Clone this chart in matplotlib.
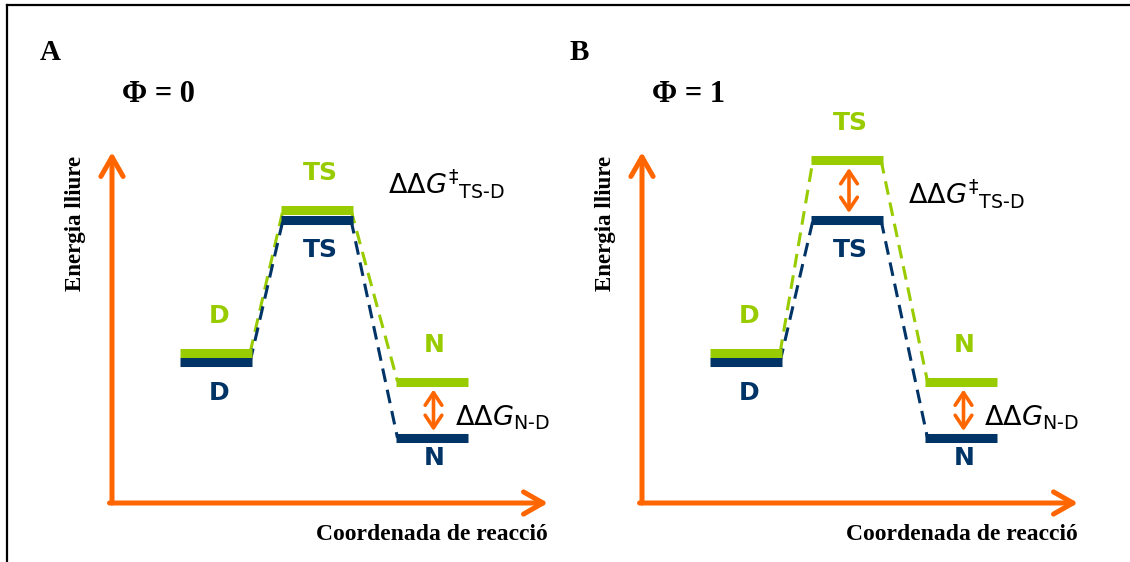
import matplotlib
matplotlib.use('Agg')
import matplotlib.pyplot as plt
from matplotlib.lines import Line2D

plt.rcParams['mathtext.fontset'] = 'dejavusans'

GREEN = '#99cc00'
BLUE = '#003366'
ORANGE = '#ff6600'
SERIF = 'Liberation Serif'

# states along the reaction coordinate
states = ['D', 'TS', 'N']
coord = [10.4, 20.5, 31.95]
half_w = 3.6

# free energy levels (arbitrary units)
energy_blue = [14.1, 28.3, 6.5]
energy_green_A = [15.0, 29.3, 12.15]
energy_green_B = [15.0, 34.3, 12.15]

panel_names = ['A', 'B']
phi_values = ['0', '1']
ddg_arrows_A = ['N']
ddg_arrows_B = ['TS', 'N']

W, H = 1130, 562
fig = plt.figure(figsize=(W / 100, H / 100), dpi=100)

# frame (top + left border)
fig.add_artist(Line2D([7 / W, 1], [1 - 5 / H, 1 - 5 / H], transform=fig.transFigure,
                      color='black', lw=1.6))
fig.add_artist(Line2D([7 / W, 7 / W], [0, 1 - 5 / H], transform=fig.transFigure,
                      color='black', lw=1.6))


def draw_panel(ax, green, arrows, txt_pos):
    ax.set_xlim(0, 44)
    ax.set_ylim(0, 36)
    ax.set_axis_off()

    # orange axes with arrow heads
    ax.annotate('', xy=(0, 35.1), xytext=(0, 0),
                arrowprops=dict(arrowstyle='->,head_length=0.7,head_width=0.4',
                                color=ORANGE, lw=3.6, shrinkA=0, shrinkB=0,
                                mutation_scale=20))
    ax.annotate('', xy=(43.6, 0), xytext=(-0.25, 0),
                arrowprops=dict(arrowstyle='->,head_length=0.7,head_width=0.4',
                                color=ORANGE, lw=3.6, shrinkA=0, shrinkB=0,
                                mutation_scale=20))

    blue_off = [3.1, 3.0, 2.0]
    for lev, col, z in [(green, GREEN, 4), (energy_blue, BLUE, 3)]:
        # dashed connectors
        for i in range(len(states) - 1):
            ax.plot([coord[i] + half_w - 0.2, coord[i + 1] - half_w + 0.2],
                    [lev[i], lev[i + 1]], color=col, lw=2.2,
                    linestyle=(0, (4.5, 2.6)), zorder=2)
        # levels
        for i in range(len(states)):
            ax.plot([coord[i] - half_w, coord[i] + half_w], [lev[i], lev[i]],
                    color=col, lw=6.5, solid_capstyle='butt', zorder=z)

    for i, s in enumerate(states):
        ax.text(coord[i] + 0.3, green[i] + 3.7, s, color=GREEN, fontsize=18,
                fontweight='bold', ha='center', va='center')
        ax.text(coord[i] + 0.3, energy_blue[i] - blue_off[i], s, color=BLUE,
                fontsize=18, fontweight='bold', ha='center', va='center')

    for s in arrows:
        i = states.index(s)
        ax.annotate('', xy=(coord[i] + 0.2, green[i] - 0.8),
                    xytext=(coord[i] + 0.2, energy_blue[i] + 0.7),
                    arrowprops=dict(arrowstyle='<->,head_length=0.45,head_width=0.3',
                                    color=ORANGE, lw=2.6, shrinkA=0, shrinkB=0,
                                    mutation_scale=20))

    ax.text(*txt_pos[0], r'$\Delta\Delta G^{\ddagger}{}_{\text{TS-D}}$',
            fontsize=19.5, ha='left', va='baseline')
    ax.text(*txt_pos[1], r'$\Delta\Delta G_{\text{N-D}}$',
            fontsize=19.5, ha='left', va='baseline')


offsets = [0, 530]
greens = [energy_green_A, energy_green_B]
arrow_sets = [ddg_arrows_A, ddg_arrows_B]
txt_positions = [[(27.6, 30.9), (34.3, 7.8)], [(26.6, 29.9), (34.2, 7.7)]]

for k in range(2):
    dx = offsets[k]
    ax = fig.add_axes([(112 + dx) / W, (H - 503) / H, 440 / W, 360 / H])
    draw_panel(ax, greens[k], arrow_sets[k], txt_positions[k])

    fig.text((40 + dx) / W, 1 - 52 / H, panel_names[k], family=SERIF,
             fontweight='bold', fontsize=21, ha='left', va='center')
    fig.text((122 + dx) / W, 1 - 94 / H, '\u03a6 = ' + phi_values[k], family=SERIF,
             fontweight='bold', fontsize=22, ha='left', va='center')
    fig.text((76 + dx) / W, 1 - 223 / H, 'Energia lliure', family=SERIF,
             fontweight='bold', fontsize=16.5, rotation=90, ha='center', va='center')
    fig.text((548 + dx) / W, 1 - 535 / H, 'Coordenada de reacci\u00f3', family=SERIF,
             fontweight='bold', fontsize=17, ha='right', va='center')

fig.savefig('out.png', dpi=100)
